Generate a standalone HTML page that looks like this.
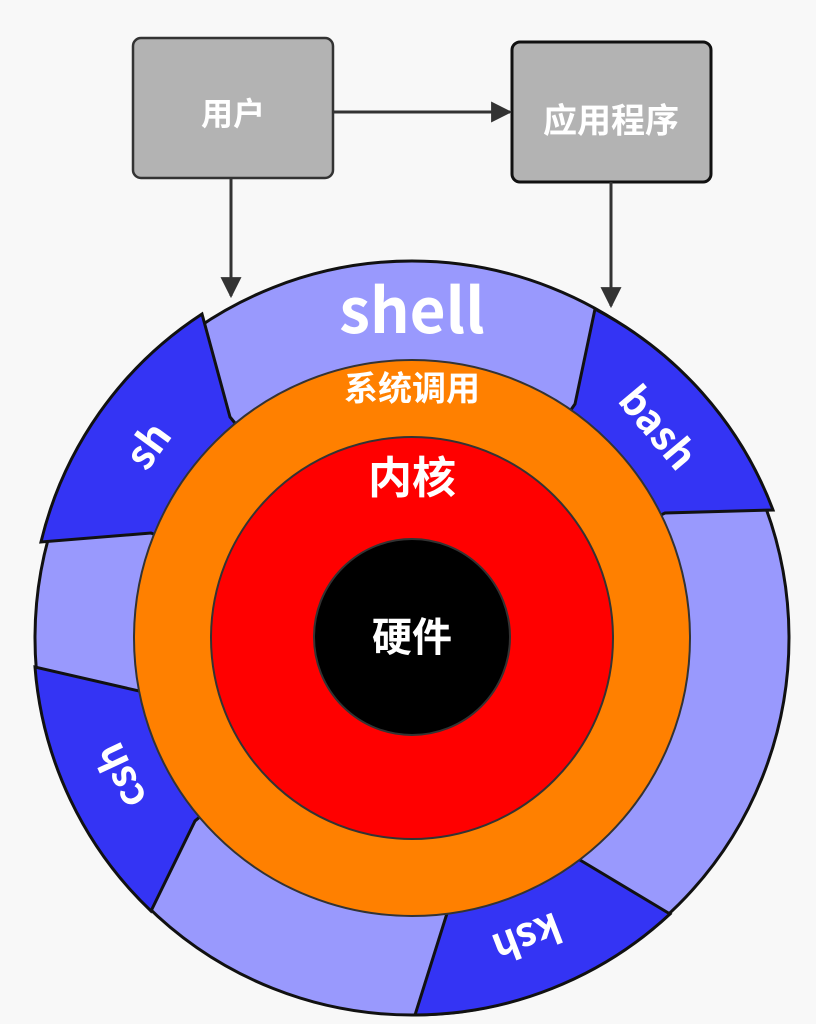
<!DOCTYPE html>
<html><head><meta charset="utf-8"><style>
html,body{margin:0;padding:0;background:#f8f8f8;}
svg{display:block}
text{font-family:"Noto Sans CJK SC","Liberation Sans",sans-serif;font-weight:bold;fill:#fff;text-anchor:middle;dominant-baseline:central}
</style></head><body>
<svg width="816" height="1024" viewBox="0 0 816 1024">
<defs><marker id="a" viewBox="0 0 10 10" refX="9" refY="5" markerWidth="7" markerHeight="7" orient="auto"><path d="M0,0L10,5L0,10z" fill="#333"/></marker></defs>
<rect x="133" y="38" width="200" height="140" rx="8" fill="#b3b3b3" stroke="#333" stroke-width="2.5"/>
<rect x="512" y="42" width="199" height="140" rx="8" fill="#b3b3b3" stroke="#111" stroke-width="3"/>
<text x="233" y="112" font-size="32">用户</text>
<text x="611" y="118" font-size="34">应用程序</text>
<line x1="333" y1="112" x2="510" y2="112" stroke="#333" stroke-width="3" marker-end="url(#a)"/>
<line x1="231" y1="178" x2="231" y2="296" stroke="#333" stroke-width="3" marker-end="url(#a)"/>
<line x1="611" y1="182" x2="611" y2="306" stroke="#333" stroke-width="3" marker-end="url(#a)"/>
<circle cx="412" cy="638" r="377" fill="#9999fd" stroke="#111" stroke-width="3"/>
<g fill="#3434f4" stroke="#111" stroke-width="3">
<path d="M202,314 A377,377 0 0 0 41,542 L151,533 L412,638 L230,417 Z"/>
<path d="M773,510 A377,377 0 0 0 595,309 L575,404 L412,638 L665,513 Z"/>
<path d="M35,667 A377,377 0 0 0 151,911 L195,821 L412,638 L139,691 Z"/>
<path d="M415,1015 A377,377 0 0 0 670,914 L580,860 L412,638 L449,907 Z"/>
</g>
<circle cx="412" cy="638" r="278" fill="#ff8000" stroke="#333" stroke-width="2"/>
<circle cx="412" cy="638" r="201" fill="#ff0000" stroke="#333" stroke-width="2"/>
<circle cx="412" cy="637" r="98" fill="#000" stroke="#333" stroke-width="2"/>
<text x="412" y="306" font-size="62">shell</text>
<text x="412" y="386" font-size="34">系统调用</text>
<text x="412" y="474" font-size="44">内核</text>
<text x="412" y="634" font-size="40">硬件</text>
<text transform="translate(146,444) rotate(-54)" font-size="40">sh</text>
<text transform="translate(660,426) rotate(50)" font-size="40">bash</text>
<text transform="translate(118,777) rotate(-115)" font-size="40">csh</text>
<text transform="translate(528,940) rotate(159)" font-size="40">ksh</text>
</svg>
</body></html>
